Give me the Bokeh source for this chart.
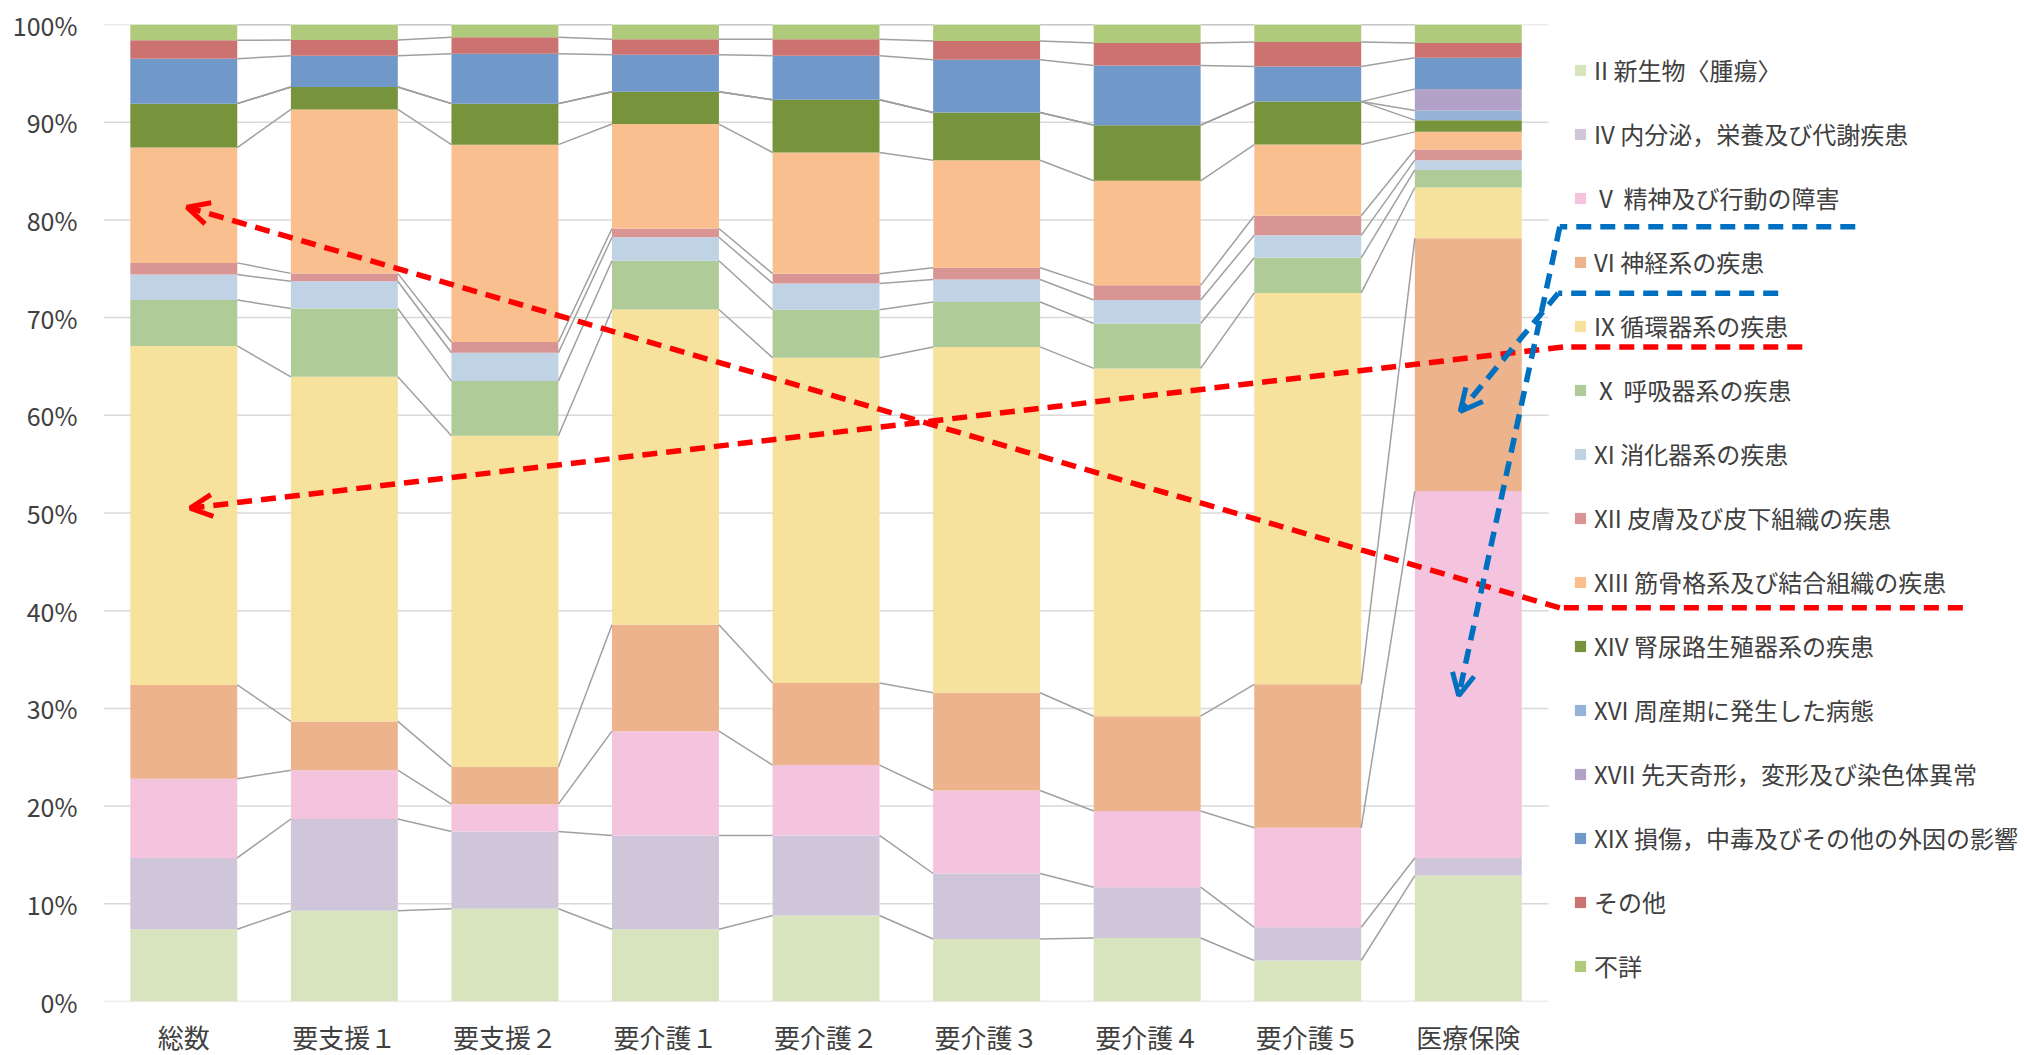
import numpy as np
from bokeh.plotting import figure
from bokeh.models import (ColumnDataSource, Range1d, FixedTicker, PrintfTickFormatter,
                          CustomJSTickFormatter, Legend, LegendItem, Arrow, OpenHead)
from bokeh.embed import file_html
from bokeh.resources import INLINE

# ---- data: share of primary disease group (%) by care level ----
categories = ["総数", "要支援１", "要支援２", "要介護１", "要介護２",
              "要介護３", "要介護４", "要介護５", "医療保険"]

series_labels = [
    "II 新生物〈腫瘍〉",
    "IV 内分泌，栄養及び代謝疾患",
    "Ⅴ 精神及び行動の障害",
    "VI 神経系の疾患",
    "IX 循環器系の疾患",
    "Ⅹ 呼吸器系の疾患",
    "XI 消化器系の疾患",
    "XII 皮膚及び皮下組織の疾患",
    "XIII 筋骨格系及び結合組織の疾患",
    "XIV 腎尿路生殖器系の疾患",
    "XVI 周産期に発生した病態",
    "XVII 先天奇形，変形及び染色体異常",
    "XIX 損傷，中毒及びその他の外因の影響",
    "その他",
    "不詳",
]

neoplasms     = [7.4, 9.3, 9.5, 7.4, 8.8, 6.4, 6.5, 4.2, 12.9]
endocrine     = [7.3, 9.4, 7.9, 9.6, 8.2, 6.7, 5.2, 3.4, 1.8]
mental        = [8.1, 5.0, 2.8, 10.7, 7.2, 8.5, 7.8, 10.2, 37.6]
nervous       = [9.6, 5.0, 3.8, 10.9, 8.4, 10.0, 9.7, 14.7, 25.9]
circulatory   = [34.7, 35.3, 33.9, 32.3, 33.3, 35.4, 35.6, 40.1, 5.2]
respiratory   = [4.7, 7.0, 5.6, 5.0, 4.9, 4.6, 4.6, 3.6, 1.8]
digestive     = [2.6, 2.8, 2.9, 2.4, 2.7, 2.3, 2.4, 2.3, 1.0]
skin          = [1.2, 0.8, 1.1, 0.9, 1.0, 1.2, 1.5, 2.0, 1.1]
musculo       = [11.8, 16.8, 20.2, 10.7, 12.4, 11.0, 10.7, 7.3, 1.8]
genitourinary = [4.5, 2.3, 4.2, 3.3, 5.4, 4.9, 5.7, 4.4, 1.2]
perinatal     = [0.0, 0.0, 0.0, 0.0, 0.0, 0.0, 0.0, 0.0, 1.0]
congenital    = [0.0, 0.0, 0.0, 0.0, 0.0, 0.0, 0.0, 0.0, 2.2]
injury        = [4.6, 3.2, 5.1, 3.8, 4.5, 5.4, 6.1, 3.6, 3.2]
other         = [1.9, 1.6, 1.7, 1.6, 1.7, 1.9, 2.3, 2.5, 1.5]
unknown       = [1.6, 1.6, 1.3, 1.5, 1.5, 1.7, 1.9, 1.8, 1.9]

series_values = [neoplasms, endocrine, mental, nervous, circulatory, respiratory,
                 digestive, skin, musculo, genitourinary, perinatal, congenital,
                 injury, other, unknown]

colors = ["#d7e4bd", "#cfc6da", "#f4c3de", "#ecb38d", "#f6e19d", "#afcb98",
          "#c0d3e4", "#d99594", "#f9bf8f", "#77933c", "#95b3d7", "#b3a2c7",
          "#7099c9", "#cc7270", "#b0ca7c"]

y_ticks = list(range(0, 101, 10))

FONT = "Noto Sans CJK JP"
TEXT_COLOR = "#404040"
BAR_WIDTH = 0.666
N_CAT = len(categories)
# the frame also spans the legend column on the right; one unit = one category
X_END = 11.964

# ---- 100% normalisation per column ----
raw = np.array(series_values, dtype=float)
shares = raw / raw.sum(axis=0) * 100.0
tops = np.cumsum(shares, axis=0)
x_pos = [i + 0.5 for i in range(N_CAT)]

keys = [f"s{i}" for i in range(len(series_labels))]
data = {"x": x_pos}
for k, row in zip(keys, shares):
    data[k] = list(row)
source = ColumnDataSource(data)

p = figure(x_range=Range1d(0, X_END), y_range=Range1d(0, 100),
           frame_width=1921, frame_height=977,
           min_border_left=103, min_border_top=24,
           min_border_right=0, min_border_bottom=54,
           output_backend="svg", toolbar_location=None)
p.outline_line_color = None
p.background_fill_color = "white"
p.border_fill_color = "white"
p.xgrid.visible = False
p.ygrid.visible = False

# horizontal gridlines across the bar area only
p.segment(x0=[0] * len(y_ticks), x1=[N_CAT] * len(y_ticks), y0=y_ticks, y1=y_ticks,
          line_color="#d9d9d9", line_width=1.5, level="underlay")

bars = p.vbar_stack(keys, x="x", width=BAR_WIDTH, fill_color=colors,
                    line_color=None, source=source)

# series lines joining the top of each segment between neighbouring columns
x0, x1, y0, y1 = [], [], [], []
for j in range(len(series_labels)):
    for i in range(N_CAT - 1):
        x0.append(x_pos[i] + BAR_WIDTH / 2)
        x1.append(x_pos[i + 1] - BAR_WIDTH / 2)
        y0.append(tops[j, i])
        y1.append(tops[j, i + 1])
p.segment(x0=x0, y0=y0, x1=x1, y1=y1, line_color="#a0a0a0", line_width=1.5)

# axes
p.yaxis.ticker = FixedTicker(ticks=y_ticks)
p.yaxis.formatter = PrintfTickFormatter(format="%d%%")
p.yaxis.axis_line_color = None
p.yaxis.major_tick_line_color = None
p.yaxis.minor_tick_line_color = None
p.yaxis.major_tick_out = 0
p.yaxis.major_label_standoff = 26
p.yaxis.major_label_text_font = FONT
p.yaxis.major_label_text_font_size = "25px"
p.yaxis.major_label_text_color = TEXT_COLOR

p.xaxis.ticker = FixedTicker(ticks=x_pos)
p.xaxis.formatter = CustomJSTickFormatter(
    args=dict(labels=categories),
    code="const i = Math.round(tick - 0.5); return (i >= 0 && i < labels.length) ? labels[i] : '';")
p.xaxis.axis_line_color = None
p.xaxis.major_tick_line_color = None
p.xaxis.minor_tick_line_color = None
p.xaxis.major_tick_out = 0
p.xaxis.major_label_standoff = 16
p.xaxis.major_label_text_font = FONT
p.xaxis.major_label_text_font_size = "26px"
p.xaxis.major_label_text_color = TEXT_COLOR

legend = Legend(items=[LegendItem(label=lab, renderers=[r])
                       for lab, r in zip(series_labels, bars)],
                location=(1470, 18), orientation="vertical",
                glyph_width=14, glyph_height=14, label_height=35,
                label_standoff=7, spacing=29, padding=0, margin=0,
                border_line_color=None, background_fill_alpha=0,
                label_text_font=FONT, label_text_font_size="24px",
                label_text_color=TEXT_COLOR)
p.add_layout(legend)

# dashed call-out arrows from legend entries to the segments they describe
callouts = [
    # (colour, polyline points in (category units, %))
    ("#ff0000", [(11.58, 40.3), (9.07, 40.3), (0.52, 81.3)]),   # XIII
    ("#ff0000", [(10.58, 67.0), (9.09, 67.0), (0.54, 50.5)]),   # IX
    ("#0070c0", [(10.91, 79.3), (9.07, 79.3), (8.44, 31.3)]),   # V
    ("#0070c0", [(10.43, 72.5), (9.06, 72.5), (8.45, 60.4)]),   # VI
]
for col, pts in callouts:
    for k in range(len(pts) - 1):
        (xa, ya), (xb, yb) = pts[k], pts[k + 1]
        last = k == len(pts) - 2
        head = OpenHead(size=22, line_color=col, line_width=5) if last else None
        p.add_layout(Arrow(x_start=xa, y_start=ya, x_end=xb, y_end=yb,
                           start=None, end=head, line_color=col,
                           line_width=5.5, line_dash="15 9"))

open("out.html", "w").write(file_html(p, INLINE))
